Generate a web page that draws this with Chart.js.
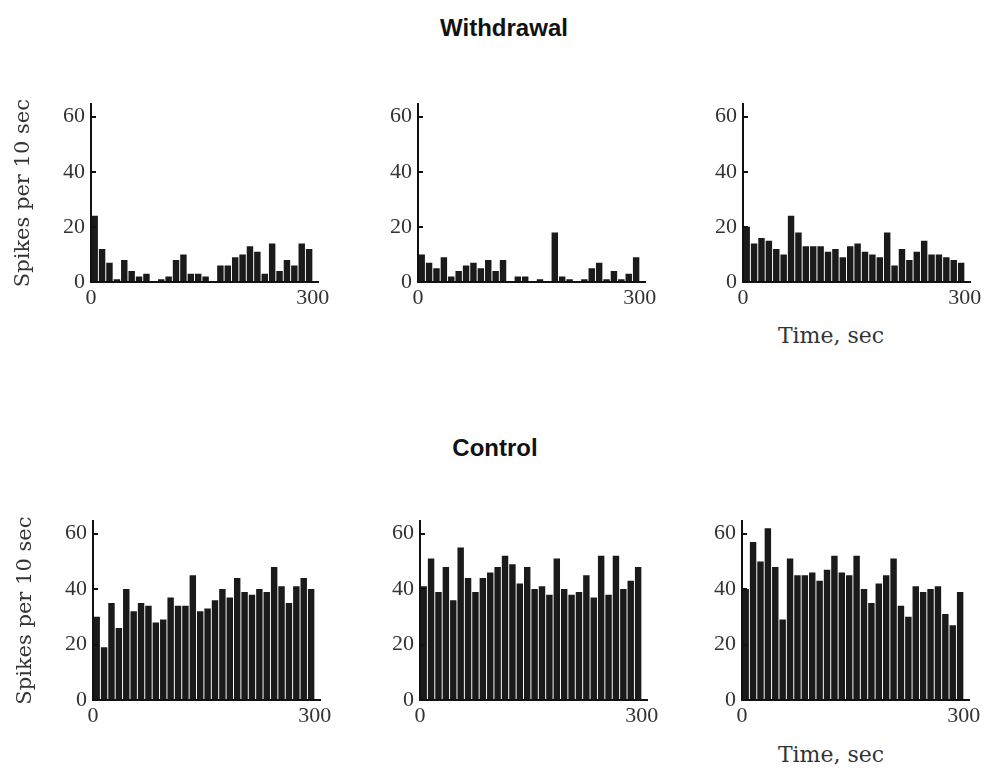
<!DOCTYPE html>
<html>
<head>
<meta charset="utf-8">
<script src="https://cdn.jsdelivr.net/npm/chart.js@4.4.0/dist/chart.umd.min.js"></script>
<style>
  body { margin: 0; background: #fff; width: 985px; height: 769px; position: relative; overflow: hidden; }
  canvas { position: absolute; }
  .heading { position: absolute; font: bold 24px "Liberation Sans", Arial, sans-serif; line-height: 28px; color: #111; white-space: nowrap; transform: translateX(-50%); }
  .xtitle { position: absolute; font: 22px "DejaVu Serif", serif; line-height: 26px; color: #333; white-space: nowrap; transform: translateX(-50%); }
</style>
</head>
<body>
<div class="heading" style="left:504px; top:14px;">Withdrawal</div>
<div class="heading" style="left:495px; top:434px;">Control</div>
<div class="xtitle" style="left:831px; top:323px;">Time, sec</div>
<div class="xtitle" style="left:831px; top:742px;">Time, sec</div>

<canvas id="w1" width="338" height="232" style="left:0px; top:80px;"></canvas>
<canvas id="w2" width="338" height="232" style="left:327px; top:80px;"></canvas>
<canvas id="w3" width="338" height="232" style="left:652px; top:80px;"></canvas>
<canvas id="c1" width="338" height="233" style="left:2px; top:497px;"></canvas>
<canvas id="c2" width="338" height="233" style="left:329px; top:497px;"></canvas>
<canvas id="c3" width="338" height="233" style="left:651px; top:497px;"></canvas>

<script>
(function() {
    'use strict';

    // 10 s bins, centre of each bin (sec)
    const binCentres = [5, 15, 25, 35, 45, 55, 65, 75, 85, 95, 105, 115, 125, 135, 145,
                        155, 165, 175, 185, 195, 205, 215, 225, 235, 245, 255, 265, 275, 285, 295];
    const xTickValues = [0, 300];
    const yTickStep = 20;

    // spikes per 10 sec, withdrawal animals
    const withdrawal1 = [24, 12, 7, 1, 8, 4, 2, 3, 0, 1, 2, 8, 10, 3, 3, 2, 0, 6, 6, 9, 10, 13, 11, 3, 14, 4, 8, 6, 14, 12];
    const withdrawal2 = [10, 7, 5, 9, 2, 4, 6, 7, 5, 8, 4, 8, 0, 2, 2, 0, 1, 0, 18, 2, 1, 0, 1, 5, 7, 1, 4, 1, 3, 9];
    const withdrawal3 = [20, 14, 16, 15, 12, 10, 24, 18, 13, 13, 13, 11, 12, 9, 13, 14, 11, 10, 9, 18, 6, 12, 8, 11, 15, 10, 10, 9, 8, 7];

    // spikes per 10 sec, control animals
    const control1 = [30, 19, 35, 26, 40, 32, 35, 34, 28, 29, 37, 34, 34, 45, 32, 33, 36, 40, 37, 44, 39, 38, 40, 39, 48, 41, 35, 41, 44, 40];
    const control2 = [41, 51, 39, 48, 36, 55, 44, 39, 44, 46, 48, 52, 49, 42, 48, 40, 41, 38, 51, 40, 38, 39, 45, 37, 52, 38, 52, 40, 43, 48];
    const control3 = [40, 57, 50, 62, 48, 29, 51, 45, 45, 46, 43, 47, 52, 46, 45, 52, 40, 35, 42, 45, 51, 34, 30, 41, 39, 40, 41, 31, 27, 39];

    const yTitle = 'Spikes per 10 sec';
    const ink = '#111';
    const tickFont = { family: '"Liberation Serif", "Times New Roman", serif', size: 22 };

    function makePanel(id, values, showYTitle) {
        const ctx = document.getElementById(id).getContext('2d');
        const points = values.map(function(v, i) { return { x: binCentres[i], y: v }; });

        return new Chart(ctx, {
            type: 'bar',
            data: {
                datasets: [{
                    data: points,
                    backgroundColor: '#1a1a1a',
                    borderWidth: 0,
                    barPercentage: 0.87,
                    categoryPercentage: 1.0
                }]
            },
            options: {
                responsive: false,
                animation: false,
                devicePixelRatio: 1,
                layout: { padding: { top: 12, right: 20, left: 0, bottom: 0 } },
                plugins: {
                    legend: { display: false },
                    tooltip: { enabled: false }
                },
                scales: {
                    x: {
                        type: 'linear',
                        min: 0,
                        max: 307,
                        offset: false,
                        afterBuildTicks: function(scale) {
                            scale.ticks = xTickValues.map(function(v) { return { value: v }; });
                        },
                        afterFit: function(scale) { scale.height = 30; },
                        grid: { display: false, drawTicks: false },
                        border: { display: true, color: ink, width: 2 },
                        ticks: {
                            color: '#333',
                            font: tickFont,
                            padding: 3,
                            maxRotation: 0,
                            autoSkip: false
                        }
                    },
                    y: {
                        min: 0,
                        max: 64.5,
                        afterFit: function(scale) { scale.width = 91; },
                        // short tick marks pointing into the plot, drawn over the bars
                        grid: {
                            drawOnChartArea: false,
                            drawTicks: true,
                            tickLength: -5,
                            color: ink,
                            lineWidth: 2,
                            z: 1
                        },
                        border: { display: true, color: ink, width: 2, z: 2 },
                        ticks: {
                            stepSize: yTickStep,
                            includeBounds: false,
                            color: '#333',
                            font: tickFont,
                            padding: 11
                        },
                        title: {
                            display: showYTitle,
                            text: yTitle,
                            color: '#333',
                            font: { family: '"DejaVu Serif", serif', size: 21 },
                            padding: { top: 11, bottom: 0 }
                        }
                    }
                }
            }
        });
    }

    makePanel('w1', withdrawal1, true);
    makePanel('w2', withdrawal2, false);
    makePanel('w3', withdrawal3, false);
    makePanel('c1', control1, true);
    makePanel('c2', control2, false);
    makePanel('c3', control3, false);
})();
</script>
</body>
</html>
